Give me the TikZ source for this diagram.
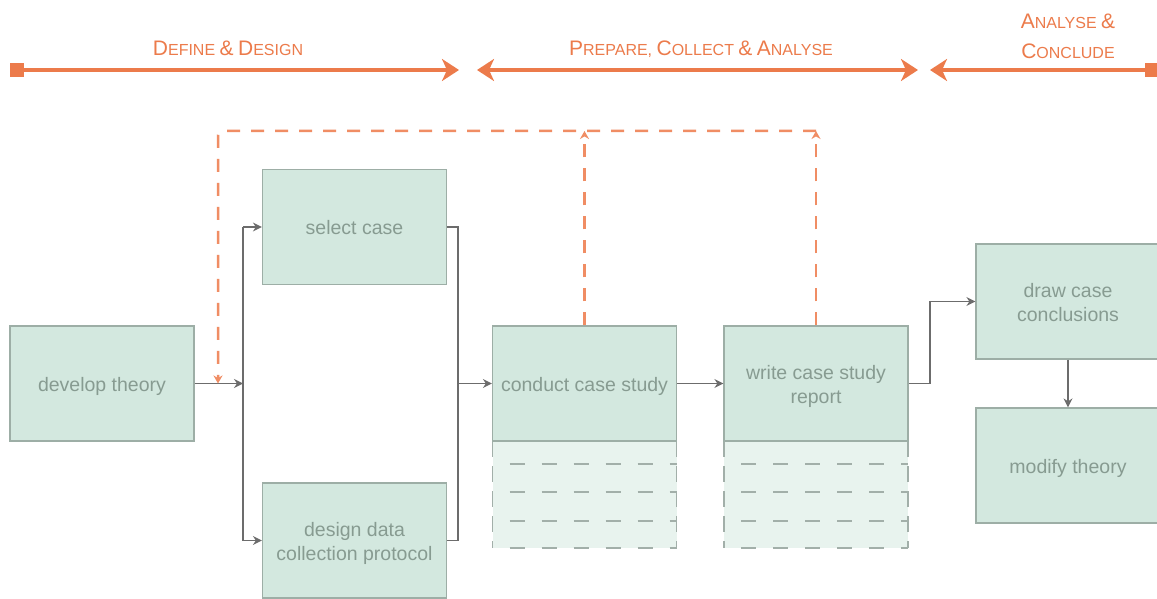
\documentclass[tikz,border=0pt]{standalone}
\usepackage{fontspec}
\setmainfont{Liberation Sans}
\usetikzlibrary{arrows.meta,calc}
\definecolor{org}{HTML}{EC7B4B}
\definecolor{orgd}{HTML}{F08D64}
\definecolor{boxfill}{HTML}{D3E8DF}
\definecolor{boxline}{HTML}{9DAEA6}
\definecolor{boxtext}{HTML}{879B91}
\definecolor{conncol}{HTML}{6C6C6C}
\definecolor{ghost}{HTML}{E8F3EE}
\definecolor{ghostline}{HTML}{A2AFA9}
\newcommand{\SCpart}[2]{{\fontsize{21}{30}\selectfont #1}{\fontsize{16}{30}\selectfont #2}}
\newcommand{\boxtxt}[1]{\raisebox{-3pt}[\height][\depth]{\begin{tabular}{@{}c@{}}#1\end{tabular}}}
\tikzset{
  x=1pt, y=-1pt,
  bannertip/.tip={Stealth[length=17pt,width=22pt,inset=5pt]},
  box/.style={draw=boxline, fill=boxfill, line width=1.2pt, minimum width=184pt,
    minimum height=115pt, inner sep=0pt, text=boxtext, align=center,
    font=\fontsize{19.5}{24}\selectfont},
  conn/.style={draw=conncol, line width=1.4pt, -{Stealth[length=9pt,width=9pt]}},
  connline/.style={draw=conncol, line width=1.4pt},
  fb/.style={draw=orgd, line width=2.5pt, dash pattern=on 13pt off 11pt,
    -{Stealth[length=8pt,width=9pt]}},
  banner/.style={draw=org, line width=4.5pt},
  sq/.style={fill=org, minimum size=14pt, inner sep=0pt},
  label/.style={text=org, anchor=base, align=center, font=\fontsize{16}{30}\selectfont},
  ghostdash/.style={draw=ghostline, line width=1.3pt, dash pattern=on 15pt off 17pt},
  ghostvert/.style={draw=ghostline, line width=1.3pt, dash pattern=on 16pt off 9pt},
}
\begin{document}
\begin{tikzpicture}
\useasboundingbox (0,0) rectangle (1157,599);
\clip (0,0) rectangle (1157,599);
\fill[white] (0,0) rectangle (1157,599);

% ---------- banner ----------
\node[sq] (sq1) at (17,70) {};
\node[sq] (sq2) at (1152,70) {};
\coordinate (t1) at (459,70);
\coordinate (t2) at (477,70);
\coordinate (t3) at (918,70);
\coordinate (t4) at (930,70);
\draw[banner, -{bannertip}] (sq1.east) -- (t1);
\draw[banner, {bannertip}-{bannertip}] (t2) -- (t3);
\draw[banner, {bannertip}-] (t4) -- (sq2.west);

\node[label] (l1) at (228,56) {\SCpart{D}{EFINE} \SCpart{\&}{} \SCpart{D}{ESIGN}};
\node[label] (l2) at (701,56) {\SCpart{P}{REPARE,} \SCpart{C}{OLLECT} \SCpart{\&}{} \SCpart{A}{NALYSE}};
\node[label] (l3) at (1068,29) {\SCpart{A}{NALYSE} \SCpart{\&}{}};
\node[label] (l4) at (1068,59) {\SCpart{C}{ONCLUDE}};

% ---------- ghost stacks ----------
\coordinate (gcon) at (492.5,441);
\coordinate (gwri) at (724,441);
\foreach \b in {gcon,gwri}{
  \fill[ghost] (\b) rectangle ++(184,107);
  \foreach \dy in {23,51,80,107}
    \draw[ghostdash, dash phase=15pt] ($(\b)+(0,\dy)$) -- ++(184,0);
  \draw[ghostvert] (\b) -- ++(0,107);
  \draw[ghostvert] ($(\b)+(184,0)$) -- ++(0,107);
}

% ---------- boxes ----------
\node[box] (con) at (584.5,383.5) {\boxtxt{conduct case study}};
\node[box] (wri) at (816,383.5) {\boxtxt{write case study\\report}};
\node[box] (dev) at (102,383.5) {\boxtxt{develop theory}};
\node[box] (sel) at (354.5,227) {\boxtxt{select case}};
\node[box] (des) at (354.5,540.5) {\boxtxt{design data\\collection protocol}};
\node[box] (drw) at (1068,301.5) {\boxtxt{draw case\\conclusions}};
\node[box] (mod) at (1068,465.5) {\boxtxt{modify theory}};

% ---------- connectors ----------
\coordinate (j1) at (243,383.5);
\coordinate (j2) at (458,383.5);
\coordinate (j3) at (930,383.5);
\draw[conn] (dev.east) -- (j1);
\draw[connline] (j1 |- sel.west) -- (j1 |- des.west);
\draw[conn] (j1 |- sel.west) -- (sel.west);
\draw[conn] (j1 |- des.west) -- (des.west);
\draw[connline] (sel.east) -- (sel.east -| j2) -- (des.east -| j2) -- (des.east);
\draw[conn] (j2) -- (con.west);
\draw[conn] (con.east) -- (wri.west);
\draw[conn] (wri.east) -- (j3) |- (drw.west);
\draw[conn] (drw.south) -- (mod.north);

% ---------- feedback (orange dashed) ----------
\coordinate (fl) at (218,131);
\draw[fb] (con.north) -- (con.north |- fl);
\draw[fb] (wri.north) -- (wri.north |- fl);
\draw[fb, rounded corners=4pt] (wri.north |- fl) -- (fl) -- (fl |- dev.east);
\end{tikzpicture}
\end{document}
